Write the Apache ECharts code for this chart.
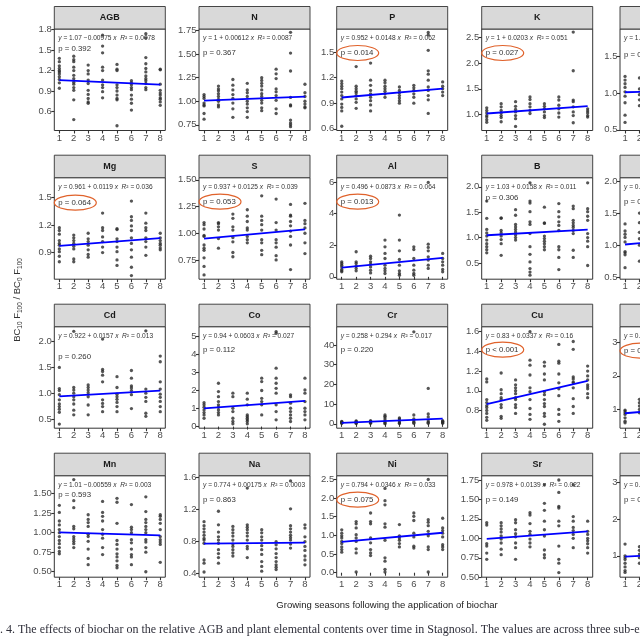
<!DOCTYPE html>
<html><head><meta charset="utf-8">
<script src="https://cdn.jsdelivr.net/npm/echarts@6/dist/echarts.min.js"></script>
<style>html,body{margin:0;padding:0;background:#fff}#c{width:640px;height:640px}</style>
</head><body><div id="c"></div>
<script>
// ---------- data (values per growing season 1..8) ----------
const seasons = [1,2,3,4,5,6,7,8];
const panelNames = ['AGB','N','P','K','', 'Mg','S','Al','B','', 'Cd','Co','Cr','Cu','', 'Mn','Na','Ni','Sr',''];

const vAGB = [[1.38,1.33,1.27,1.23,1.2,1.18,1.15,1.11,1.07,1.02,0.94],[1.41,1.36,1.33,1.25,1.2,1.13,1.08,1.03,1.0,0.95,0.91,0.77,0.48],[1.28,1.2,1.15,1.06,1.01,0.91,0.85,0.79,0.74,0.72],[1.72,1.56,1.46,1.25,1.2,1.06,0.99,0.95,0.89,0.8],[1.29,1.22,1.2,0.99,0.95,0.9,0.84,0.79,0.77,0.39],[1.05,1.02,0.99,0.95,0.92,0.84,0.78,0.72,0.62],[1.74,1.68,1.39,1.3,1.23,1.18,1.12,1.08,1.05,1.01,0.95,0.92],[1.22,1.21,1.0,0.91,0.87,0.84,0.8,0.78,0.74,0.69]];
const vN = [[1.07,1.05,1.03,0.98,0.96,0.95,0.87,0.81],[1.16,1.13,1.11,1.08,1.05,1.02,1.0,0.96,0.94],[1.23,1.17,1.12,1.07,1.03,0.98,0.92,0.83],[1.19,1.12,1.09,1.05,1.0,0.97,0.93,0.89,0.83],[1.25,1.22,1.19,1.16,1.12,1.08,1.05,1.01,0.98,0.93,0.9],[1.34,1.29,1.24,1.13,1.1,1.06,1.01,0.92,0.87],[1.73,1.51,1.32,1.04,0.96,0.95,0.8,0.77,0.75,0.73],[1.18,1.09,1.05,1.0,0.97,0.94,0.93]];
const vP = [[1.16,1.13,1.1,1.07,1.03,0.99,0.95,0.89,0.85,0.81,0.63],[1.33,1.1,1.07,1.04,1.02,0.99,0.95,0.91,0.84],[1.37,1.17,1.11,1.05,1.01,0.97,0.93,0.88,0.81],[1.17,1.14,1.1,1.07,1.04,1.01,0.97],[1.09,1.05,1.02,0.99,0.96,0.93,0.9],[1.11,1.08,1.05,1.01,0.97,0.9],[1.73,1.7,1.52,1.28,1.24,1.17,1.09,1.05,0.99,0.94,0.78],[1.15,1.1,1.07,1.03,0.99]];
const vK = [[1.13,1.08,1.03,0.98,0.95,0.9,0.85],[1.21,1.15,1.08,1.03,0.98,0.94,0.86],[1.25,1.16,1.1,1.05,0.98,0.92,0.77],[1.34,1.29,1.21,1.15,1.08,1.02],[1.21,1.16,1.11,1.05,0.98,0.94],[1.34,1.28,1.18,1.11,1.03,0.95],[2.6,1.85,1.28,1.25,1.15,1.05,0.98,0.84],[1.11,1.07,1.03,0.98,0.95]];
const vCol5Row1 = [[1.23,1.18,1.13,1.08,1.02,0.96,0.87,0.7,0.6],[1.21,1.06,0.98,0.91,0.83],[],[],[],[],[],[]];
const vMg = [[1.17,1.14,1.1,1.03,1.0,0.98,0.94,0.91,0.86,0.8],[1.09,1.06,1.03,1.0,0.97,0.94,0.83,0.8],[1.11,1.05,1.02,0.98,0.93,0.88,0.85],[1.33,1.17,1.14,1.07,1.02,0.96,0.9],[1.16,1.15,1.05,1.02,0.96,0.91,0.82,0.76],[1.46,1.29,1.25,1.19,1.14,1.06,1.0,0.93,0.85,0.74,0.65],[1.33,1.22,1.17,1.14,1.06,1.02,0.96,0.87],[1.11,1.06,1.03,1.0,0.98,0.95,0.93]];
const vS = [[1.1,1.08,1.04,0.98,0.97,0.89,0.86,0.84,0.77,0.69,0.61],[1.1,1.09,1.06,1.03,0.95,0.86],[1.18,1.14,1.06,1.03,0.96,0.92,0.82,0.78],[1.22,1.16,1.11,1.05,1.03,0.97,0.94,0.91],[1.35,1.16,1.12,1.08,1.03,0.94,0.91,0.84,0.8],[1.32,1.1,1.03,0.94,0.91,0.87,0.79,0.75],[1.27,1.17,1.16,1.11,1.07,1.02,0.97,0.89,0.66],[1.28,1.12,1.09,1.05,1.0,0.91,0.81]];
const vAl = [[0.95,0.85,0.74,0.63,0.47,0.38,0.32],[1.59,0.95,0.85,0.68,0.53,0.38],[1.31,1.16,0.95,0.8,0.63,0.42,0.25],[2.33,1.9,1.48,1.16,0.74,0.53,0.38,0.21],[3.91,2.33,1.65,1.1,0.74,0.38,0.21,0.1],[1.9,1.73,1.16,0.74,0.42,0.21,0.1],[5.98,2.07,1.86,1.65,1.27,1.06,0.74,0.53],[1.48,1.16,0.95,0.74,0.47,0.32]];
const vB = [[1.72,1.38,1.16,1.09,1.03,0.95,0.88,0.82,0.76,0.7],[1.39,1.38,1.14,1.09,1.03,0.96,0.88,0.65],[1.55,1.44,1.26,1.21,1.16,1.11,1.05,1.0,0.95],[2.08,1.72,1.68,1.51,1.31,1.26,1.08,0.82,0.67,0.52,0.39,0.32,0.26],[1.6,1.29,1.28,1.03,0.98,0.93,0.88,0.82,0.76],[1.67,1.51,1.41,1.31,1.24,1.14,0.82,0.76,0.61,0.37],[1.62,1.57,1.34,1.29,1.24,1.2,1.14,1.08,0.75,0.61],[2.08,1.57,1.51,1.42,1.34,1.08,1.0,0.93,0.82,0.45]];
const vCol5Row2 = [[1.33,1.22,1.17,1.12,1.05,0.9,0.88,0.85,0.65],[1.5,1.35,1.2,1.1,1.0,0.75],[],[],[],[],[],[]];
const vCd = [[1.5,1.09,1.05,0.97,0.87,0.79,0.74,0.69,0.63,0.4],[2.2,1.11,1.06,1.0,0.93,0.87,0.79,0.67,0.58],[1.16,1.11,1.06,1.01,0.93,0.77,0.58],[2.05,1.46,1.42,1.35,1.22,0.87,0.8,0.74,0.64],[1.32,1.11,0.98,0.93,0.88,0.82,0.74,0.64],[1.44,1.29,1.14,1.1,1.05,0.97,0.7],[2.21,1.08,1.0,0.92,0.84,0.61,0.55],[1.72,1.61,1.22,1.08,0.98,0.92,0.84,0.74,0.64]];
const vCo = [[1.32,1.2,1.07,0.92,0.77,0.64,0.46],[2.39,1.93,1.65,1.38,1.2,1.07,0.92,0.77,0.64],[1.84,1.65,1.01,0.83,0.46,0.28,0.15],[1.84,1.51,1.2,0.64,0.55,0.46,0.37,0.28,0.15],[2.67,2.48,1.99,1.56,1.38,1.2,0.64],[5.24,5.15,3.22,2.67,2.39,2.11,1.84,1.2,0.83,0.37],[1.75,1.65,1.29,1.01,0.83,0.64,0.46,0.28],[2.67,2.02,1.84,1.38,1.01,0.83,0.64,0.37]];
const vCr = [[0.3,0.5,0.7,1.0,1.2],[0.2,0.5,0.8,1.2,1.5],[0.3,0.6,0.9,1.3,1.6],[0.1,0.5,1.0,2.0,3.0,3.8,4.5],[0.2,0.5,1.0,1.8,2.5,3.0],[46.7,0.3,0.8,1.5,2.5,4.5],[18.0,5.0,3.5,1.5,0.8,0.3],[0.3,0.7,1.0,1.3,1.6]];
const vCu = [[1.12,1.09,0.91,0.88,0.85,0.83,0.8,0.77,0.73,0.7],[1.18,1.01,0.97,0.93,0.91,0.86,0.83,0.74,0.72],[1.11,1.06,1.03,1.0,0.97,0.93,0.91,0.86,0.83,0.77],[1.6,1.31,1.26,1.16,1.03,0.99,0.91,0.82,0.76,0.71],[1.29,1.25,1.17,1.11,0.99,0.96,0.91,0.87,0.84,0.77,0.74,0.66],[1.47,1.3,1.28,1.17,1.08,1.02,0.95,0.81,0.76,0.69],[1.5,1.42,1.14,1.12,1.09,1.08,1.03,0.92,0.84,0.77],[1.25,1.2,1.15,1.11,1.06,1.04,1.02,0.97,0.93]];
const vCol5Row3 = [[0.98,0.95,0.9,0.85,0.75,0.65,0.6],[1.3,1.2,1.1,1.0,0.9],[],[],[],[],[],[]];
const vMn = [[1.35,1.26,1.15,1.1,1.04,1.0,0.95,0.9,0.86,0.81,0.76,0.73],[1.68,1.41,1.32,1.08,1.05,0.95,0.92,0.89,0.86,0.81],[1.23,1.17,1.13,1.08,0.98,0.95,0.89,0.79,0.67,0.59],[1.4,1.26,1.21,1.15,1.04,0.98,0.93,0.81,0.72],[1.44,1.39,1.12,0.9,0.85,0.79,0.73,0.69,0.64,0.58,0.55],[1.36,1.07,1.04,1.0,0.91,0.87,0.79,0.72,0.69,0.59],[1.46,1.27,1.17,1.13,1.08,1.04,1.0,0.91,0.88,0.81,0.75,0.5],[1.23,1.21,1.17,1.12,1.04,0.95,0.91,0.88,0.85,0.62]];
const vNa = [[1.05,1.0,0.96,0.92,0.88,0.84,0.82,0.78,0.57,0.53,0.42],[1.18,1.01,0.92,0.86,0.82,0.78,0.7,0.65,0.6,0.53],[0.99,0.95,0.91,0.87,0.82,0.77,0.74,0.7,0.66,0.62],[1.47,1.01,0.98,0.95,0.91,0.87,0.82,0.74,0.71,0.6],[0.95,0.91,0.86,0.82,0.75,0.7,0.64,0.55,0.49,0.43],[0.8,0.76,0.71,0.65,0.6,0.55,0.51,0.48,0.45],[1.56,1.21,1.0,0.96,0.92,0.88,0.85,0.82,0.77,0.72],[1.01,0.97,0.86,0.8,0.74,0.69,0.62,0.57,0.51]];
const vNi = [[1.15,1.06,0.99,0.93,0.84,0.78,0.69,0.62,0.55],[1.37,1.31,1.2,1.02,0.93,0.84,0.64,0.53,0.02],[1.6,1.37,1.31,0.93,0.8,0.62,0.53,0.46],[2.26,1.93,1.82,1.31,1.22,0.87,0.4,0.31,0.09,0.02],[1.29,0.99,0.93,0.87,0.78,0.69],[1.6,1.51,1.4,1.06,0.96,0.71,0.66],[2.5,1.42,1.35,1.26,1.11,0.99,0.69,0.62,0.02],[1.46,1.2,1.13,1.06,0.96,0.75,0.69,0.62]];
const vSr = [[1.2,1.17,0.93,0.9,0.81,0.73],[1.2,1.16,1.12,1.08,1.03,0.99,0.94,0.86,0.79],[1.24,1.2,1.11,1.06,1.02,0.94,0.88,0.73],[1.33,1.3,1.19,1.09,1.05,0.99,0.94,0.89],[1.69,1.45,1.36,1.22,1.11,1.03,0.85,0.79,0.75],[1.75,1.59,1.41,1.39,1.22,1.16,0.9,0.73,0.68,0.56],[1.69,1.28,1.22,1.14,1.1,1.05,1.0,0.88],[1.22,1.09,1.05,1.0,0.97,0.93,0.88,0.81]];
const vCol5Row4 = [[1.32,1.0,0.95,0.9,0.8,0.7,0.6,0.55],[1.25,1.15,1.05,0.95,0.8],[],[],[],[],[],[]];

const panelValues = [vAGB,vN,vP,vK,vCol5Row1, vMg,vS,vAl,vB,vCol5Row2, vCd,vCo,vCr,vCu,vCol5Row3, vMn,vNa,vNi,vSr,vCol5Row4];

// fitted regression (intercept, slope) and stats as printed
const intercepts = [1.07,1,0.952,1,1.01, 0.961,0.937,0.496,1.03,0.99, 0.922,0.94,0.258,0.83,0.85, 1.01,0.774,0.794,0.978,0.96];
const slopes = [-0.00975,0.00612,0.0148,0.0203,0.004, 0.0119,0.0125,0.0873,0.0158,0.02, 0.0157,0.0603,0.294,0.0337,0.035, -0.00559,0.00175,0.0346,0.0139,0.02];
const r2Text = ['0.0078','0.0087','0.062','0.051','0.004', '0.036','0.039','0.064','0.011','0.02', '0.013','0.027','0.017','0.16','0.05', '0.003','0.0003','0.033','0.022','0.01'];
const pText = ['p = 0.392','p = 0.367','p = 0.014','p = 0.027','p = 0.54', 'p = 0.064','p = 0.053','p = 0.013','p = 0.306','p = 0.21', 'p = 0.260','p = 0.112','p = 0.220','p < 0.001','p = 0.04', 'p = 0.593','p = 0.863','p = 0.075','p = 0.149','p = 0.31'];
const highlighted = [0,0,1,1,0, 1,1,1,0,0, 0,0,0,1,1, 0,0,1,0,0];

// y-axis ticks
const yTicks = [[0.6,0.9,1.2,1.5,1.8],[0.75,1,1.25,1.5,1.75],[0.6,0.9,1.2,1.5],[1,1.5,2,2.5],[0.5,1,1.5],
  [0.9,1.2,1.5],[0.75,1,1.25,1.5],[0,2,4,6],[0.5,1,1.5,2],[0.5,1,1.5,2],
  [0.5,1,1.5,2],[0,1,2,3,4,5],[0,10,20,30,40],[0.8,1,1.2,1.4,1.6],[1,2,3],
  [0.5,0.75,1,1.25,1.5],[0.4,0.8,1.2,1.6],[0,0.5,1,1.5,2,2.5],[0.5,0.75,1,1.25,1.5,1.75],[1,2,3]];
const yDecimals = [1,2,1,1,1, 1,2,0,1,1, 1,0,0,1,0, 2,1,1,2,0];
const yMin = [0.32,0.69,0.58,0.69,0.49, 0.61,0.57,-0.15,0.18,0.47, 0.32,-0.09,-2.2,0.62,0.44, 0.43,0.355,-0.12,0.5,0.42];
const yMax = [1.81,1.765,1.77,2.66,1.88, 1.715,1.52,6.28,2.18,2.05, 2.29,5.51,49.3,1.65,3.46, 1.73,1.625,2.6,1.805,3.18];

// ---------- layout ----------
const colLeft = [54.3,199,336.7,481.7,620];
const rowTop = [29,177.7,326.7,475.7];
const panelW = 111, panelH = 101.5, stripH = 22.5;
const pOffset = [20,24,24,24,26, 25,24,24,20,24, 30,23,23,23,24, 19,24,24,24,24];

const FONT = 'Liberation Sans, Arial, sans-serif';
const grids=[], xAxes=[], yAxes=[], series=[], graphics=[];

panelValues.forEach((vals, i) => {
  const r = Math.floor(i/5), c = i%5;
  const L = colLeft[c], T = rowTop[r];
  grids.push({left:L, top:T, width:panelW, height:panelH, show:true, borderColor:'#333', borderWidth:1, backgroundColor:'#fff', containLabel:false, outerBoundsMode:'none'});
  xAxes.push({type:'value', gridIndex:i, min:0.65, max:8.35, splitLine:{show:false}, axisLine:{show:false},
    axisTick:{show:true, length:3, customValues:seasons, lineStyle:{color:'#333', width:1.1}},
    axisLabel:{customValues:seasons, fontSize:9.5, color:'#4D4D4D', margin:2.5, fontFamily:FONT, hideOverlap:false}});
  const dec = yDecimals[i];
  yAxes.push({type:'value', gridIndex:i, min:yMin[i], max:yMax[i], splitLine:{show:false}, axisLine:{show:false},
    axisTick:{show:true, length:3, customValues:yTicks[i], lineStyle:{color:'#333', width:1.1}},
    axisLabel:{customValues:yTicks[i], fontSize:9.5, color:'#4D4D4D', margin:2.5, fontFamily:FONT, formatter:v=>Number(v).toFixed(dec)}});
  const pts = [];
  vals.forEach((col, k) => col.forEach(v => pts.push([seasons[k], v])));
  series.push({type:'scatter', xAxisIndex:i, yAxisIndex:i, data:pts, symbolSize:3.3, silent:true,
    itemStyle:{color:'#2b2b2b', opacity:0.8}, z:2});
  const a = intercepts[i], b = slopes[i];
  series.push({type:'line', xAxisIndex:i, yAxisIndex:i, symbol:'none', silent:true, z:3,
    data:[[seasons[0], a+b*seasons[0]],[seasons[7], a+b*seasons[7]]],
    lineStyle:{color:'#0000ff', width:1.8}});
  // strip
  graphics.push({type:'rect', shape:{x:L, y:T-stripH, width:panelW, height:stripH}, style:{fill:'#D9D9D9', stroke:'#333', lineWidth:0.9}, z:10});
  graphics.push({type:'text', x:L+panelW/2, y:T-stripH/2, style:{text:panelNames[i], fontSize:9, fontWeight:'bold', fill:'#1a1a1a', align:'center', verticalAlign:'middle', fontFamily:FONT}, z:11});
  // equation
  const bs = b<0 ? '\u2212' + String(Math.abs(b)) : '+ ' + String(b);
  graphics.push({type:'text', x:L+4, y:T+9.5, z:11, style:{
    text:'{i|y} = ' + a + ' ' + bs + ' {i|x}  {i|R}\u00B2 = ' + r2Text[i],
    fontSize:6.6, fill:'#333', align:'left', verticalAlign:'middle', fontFamily:FONT,
    rich:{i:{fontStyle:'italic', fontSize:6.6, fill:'#333', fontFamily:FONT}}}});
  graphics.push({type:'text', x:L+4, y:T+pOffset[i], z:11, style:{text:pText[i], fontSize:7.8, fill:'#333', align:'left', verticalAlign:'middle', fontFamily:FONT}});
  if (highlighted[i]) {
    graphics.push({type:'ellipse', shape:{cx:L+21, cy:T+pOffset[i], rx:21, ry:7.5}, style:{fill:'none', stroke:'#E0622B', lineWidth:1.2}, z:12});
  }
});

// axis titles and caption
graphics.push({type:'text', x:387, y:605, z:11, style:{text:'Growing seasons following the application of biochar', fontSize:9.5, fill:'#222', align:'center', verticalAlign:'middle', fontFamily:FONT}});
graphics.push({type:'text', x:17, y:300, rotation:Math.PI/2, z:11, style:{
  text:'{m|BC}{s|10}{m| F}{s|100}{m| / BC}{s|0}{m| F}{s|100}', align:'center', verticalAlign:'middle', fontFamily:FONT,
  rich:{m:{fontSize:9.5, fill:'#333', lineHeight:13, fontFamily:FONT}, s:{fontSize:6.5, fill:'#333', lineHeight:13, verticalAlign:'bottom', fontFamily:FONT}}}});
graphics.push({type:'text', x:-16, y:630, z:11, style:{text:'Fig. 4. The effects of biochar on the relative AGB and plant elemental contents over time in Stagnosol. The values are across three sub-experiments', fontSize:12, fill:'#2f2f3a', align:'left', verticalAlign:'middle', fontFamily:'Liberation Serif, DejaVu Serif, serif'}});

const chart = echarts.init(document.getElementById('c'), null, {renderer:'canvas'});
chart.setOption({animation:false, backgroundColor:'#fff', grid:grids, xAxis:xAxes, yAxis:yAxes, series:series, graphic:{elements:graphics}});
</script></body></html>
